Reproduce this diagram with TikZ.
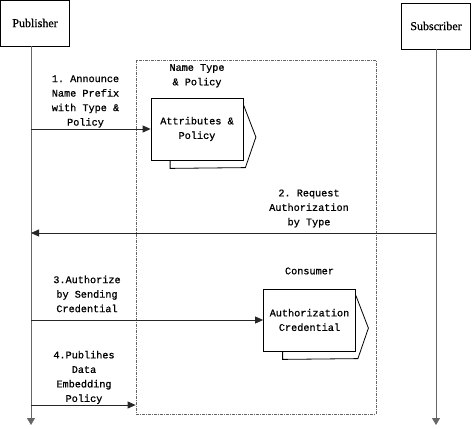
\documentclass[tikz,border=0pt]{standalone}
\usepackage{fontspec}
\setmainfont{Liberation Serif}[BoldFont=Liberation Serif, BoldFeatures={FakeBold=0.6}]
\setmonofont{Liberation Mono}[BoldFont=Liberation Mono, BoldFeatures={FakeBold=0.9}]
\usetikzlibrary{arrows.meta,positioning,calc}

\begin{document}
\begin{tikzpicture}[x=1pt,y=-1pt,
		actor/.style={draw, rectangle, line width=0.8pt, minimum width=69pt, minimum height=46pt, font=\bfseries\fontsize{12}{14}\selectfont},
		msglabel/.style={align=center, inner sep=0pt, font=\ttfamily\bfseries\fontsize{10.2}{14.5}\selectfont},
		item/.style={draw, rectangle, line width=0.8pt, fill=white, align=center, minimum width=92pt, minimum height=62pt, font=\ttfamily\bfseries\fontsize{10.2}{14.5}\selectfont},
		zone/.style={draw=black!60, rectangle, line width=0.8pt, dash pattern=on 3pt off 1pt on 1pt off 1pt, minimum width=240pt, minimum height=354pt},
		msg/.style={-{Triangle[length=8pt,width=7pt]}, line width=0.8pt, black!85},
		lifeline/.style={-{Triangle[length=7pt,width=8pt]}, line width=0.8pt, black!60}]
	\useasboundingbox (0,0) rectangle (473,428);
	\node[actor] (pub) at (35,23) {Publisher};
	\node[actor] (sub) at (436,26) {Subscriber};
	\coordinate (pubend) at (31,425);
	
	\node[zone] (zone) at (256,237) {};
	\node[item] (attr) at (197,129) {Attributes \&\\Policy};
	\node[item] (cred) at (309.5,320) {Authorization\\Credential};
	\node[msglabel, above=10pt of attr] (nametype) {Name Type\\\& Policy};
	\node[msglabel, above=14pt of cred] (consumer) {Consumer};
	
	% copies behind the boxes
	\foreach \b in {attr,cred}
		\draw[line width=0.8pt] ($(\b.north east)+(0,7)$) -- ($(\b.north east)+(12.5,39.5)$) -- ($(\b.north east)+(2,70)$) -- ($(\b.south west)+(19.5,8)$) -- ($(\b.south west)+(19.5,0)$);
	
	\node[msglabel] (announce) at (85.5,101.5) {1. Announce\\Name Prefix\\with Type \&\\Policy};
	\node[msglabel] (request) at (309,208.5) {2. Request\\Authorization\\by Type};
	\node[msglabel] (authorize) at (87,294) {3.Authorize\\by Sending\\Credential};
	\node[msglabel] (publish) at (84,377.5) {4.Publihes\\Data\\Embedding\\Policy};
	
	\draw[lifeline] (pub.south -| pubend) -- (pubend);
	\draw[lifeline] (sub.south) -- (sub.south |- pubend);
	\draw[msg] (attr.west -| pubend) -- (attr.west);
	\coordinate (req) at (0,233);
	\draw[msg] (req -| sub.south) -- (req -| pubend);
	\draw[msg] (cred.west -| pubend) -- (cred.west);
	\coordinate (pubdata) at (0,405);
	\draw[msg] (pubdata -| pubend) -- (pubdata -| zone.west);
	%\draw[msg] (announce.south) -- (attr.west);
\end{tikzpicture}
\end{document}
